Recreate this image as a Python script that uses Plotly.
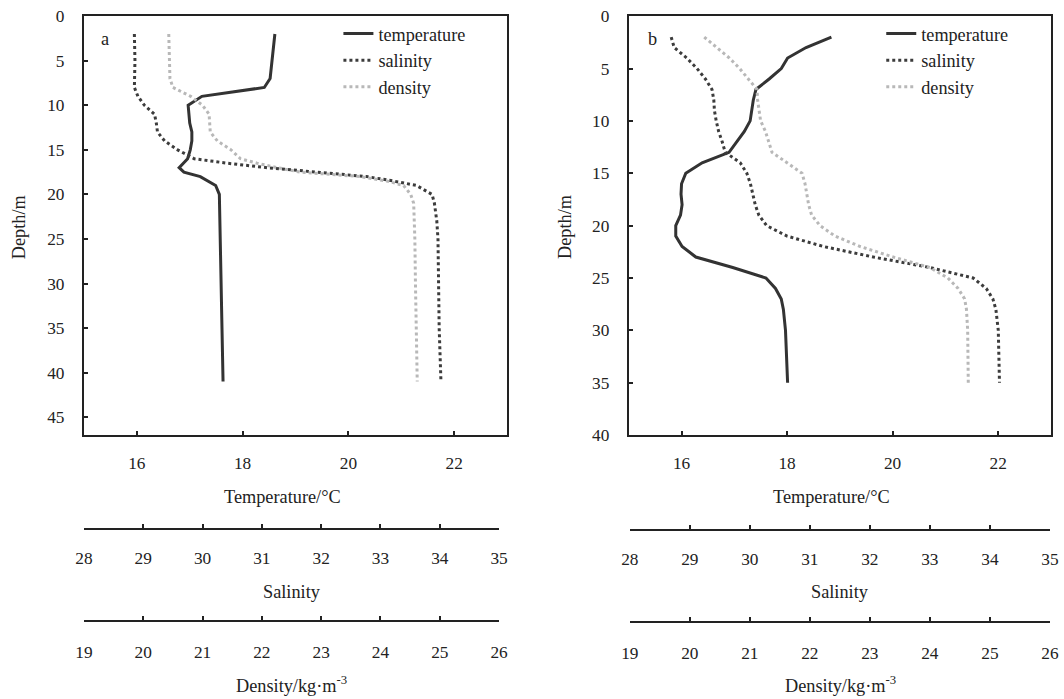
import plotly.graph_objects as go

# ---------------- Panel a data ----------------
a_temp_depth = [2, 5, 7, 8, 8.5, 9, 10, 11, 12, 13, 14, 15, 16, 17, 17.5, 18, 19, 20, 25, 30, 35, 41]
a_temp = [18.61, 18.56, 18.52, 18.41, 17.84, 17.23, 16.97, 16.99, 17.0, 17.04, 17.04, 17.01, 16.96,
          16.80, 16.89, 17.20, 17.49, 17.56, 17.58, 17.60, 17.61, 17.63]

a_sal_depth = [2, 5, 8, 9, 10, 11, 12, 13, 14, 15, 16, 16.5, 17, 17.5, 18, 18.5, 19, 20, 21, 23, 25, 30, 35, 41]
a_sal = [28.85, 28.86, 28.85, 28.91, 29.02, 29.19, 29.22, 29.24, 29.36, 29.58, 29.86, 30.42, 31.09,
         31.93, 32.77, 33.22, 33.61, 33.87, 33.91, 33.95, 33.97, 33.98, 33.99, 34.02]

a_den_depth = [2, 5, 7, 8, 9, 10, 11, 12, 13, 14, 15, 16, 16.5, 17, 17.5, 18, 18.5, 19, 20, 21, 25, 30, 35, 41]
a_den = [20.43, 20.44, 20.45, 20.50, 20.80, 21.00, 21.11, 21.12, 21.13, 21.25, 21.48, 21.64, 21.92,
         22.26, 22.65, 23.66, 24.11, 24.39, 24.51, 24.56, 24.58, 24.59, 24.60, 24.62]

# ---------------- Panel b data ----------------
b_depth = [2, 3, 4, 5, 6, 7, 8, 9, 10, 11, 12, 13, 14, 15, 16, 17, 18, 19, 20, 21, 22, 23, 24, 25,
           26, 27, 28, 30, 35]
b_temp = [18.84, 18.36, 18.01, 17.89, 17.66, 17.41, 17.36, 17.33, 17.30, 17.19, 17.04, 16.90, 16.39,
          16.08, 16.00, 15.99, 16.01, 15.98, 15.89, 15.89, 16.01, 16.27, 16.97, 17.60, 17.78, 17.89,
          17.93, 17.97, 18.01]
b_sal = [28.69, 28.74, 28.95, 29.12, 29.26, 29.37, 29.40, 29.41, 29.44, 29.48, 29.54, 29.59, 29.84,
         29.95, 30.01, 30.05, 30.09, 30.15, 30.28, 30.62, 31.23, 32.06, 33.00, 33.72, 33.94, 34.05,
         34.10, 34.14, 34.16]
b_den = [20.24, 20.45, 20.66, 20.83, 20.98, 21.12, 21.13, 21.15, 21.18, 21.26, 21.31, 21.37, 21.62,
         21.87, 21.92, 21.95, 21.98, 22.03, 22.17, 22.42, 22.84, 23.39, 24.00, 24.30, 24.47, 24.58,
         24.61, 24.63, 24.64]

series_names = ["temperature", "salinity", "density"]
temp_ticks = [16, 18, 20, 22]
sal_ticks = [28, 29, 30, 31, 32, 33, 34, 35]
den_ticks = [19, 20, 21, 22, 23, 24, 25, 26]
a_depth_ticks = [0, 5, 10, 15, 20, 25, 30, 35, 40, 45]
b_depth_ticks = [0, 5, 10, 15, 20, 25, 30, 35, 40]

W, H = 1064, 699
# the photographed page carries an 8px body margin and is scaled to fit the window;
# layout positions below are given in final-picture pixels and converted here.
MARGIN = 8
SX = (W + 2 * MARGIN) / W
SY = (H + 2 * MARGIN) / H
FONT = "Liberation Serif, Times New Roman, serif"
TEMP_COL = "#333333"
SAL_COL = "#3c3c3c"
DEN_COL = "#b8b8b8"


def px_x(p):
    return (p * SX - MARGIN) / W


def px_y(p):
    return 1 - (p * SY - MARGIN) / H


fig = go.Figure()

styles = {
    "temperature": dict(color=TEMP_COL, width=3, dash="solid"),
    "salinity": dict(color=SAL_COL, width=3, dash="dot"),
    "density": dict(color=DEN_COL, width=3, dash="dot"),
}

# Panel a
fig.add_trace(go.Scatter(x=a_temp, y=a_temp_depth, mode="lines", name=series_names[0],
                         line=styles["temperature"], xaxis="x", yaxis="y", legend="legend"))
fig.add_trace(go.Scatter(x=a_sal, y=a_sal_depth, mode="lines", name=series_names[1],
                         line=styles["salinity"], xaxis="x3", yaxis="y", legend="legend"))
fig.add_trace(go.Scatter(x=a_den, y=a_den_depth, mode="lines", name=series_names[2],
                         line=styles["density"], xaxis="x4", yaxis="y", legend="legend"))
# Panel b
fig.add_trace(go.Scatter(x=b_temp, y=b_depth, mode="lines", name=series_names[0],
                         line=styles["temperature"], xaxis="x2", yaxis="y2", legend="legend2"))
fig.add_trace(go.Scatter(x=b_sal, y=b_depth, mode="lines", name=series_names[1],
                         line=styles["salinity"], xaxis="x5", yaxis="y2", legend="legend2"))
fig.add_trace(go.Scatter(x=b_den, y=b_depth, mode="lines", name=series_names[2],
                         line=styles["density"], xaxis="x6", yaxis="y2", legend="legend2"))

tickfont = dict(family=FONT, size=17.3, color="#222")
common_axis = dict(showgrid=False, zeroline=False, showline=True, linecolor="#222", linewidth=2,
                   ticks="inside", ticklen=4, tickwidth=1.5, tickcolor="#222", tickfont=tickfont,
                   ticklabeloverflow="allow")

y_dom = [px_y(436), px_y(15)]
a_dom = [px_x(83), px_x(507)]
b_dom = [px_x(629), px_x(1052)]

layout = dict(
    width=W, height=H, margin=dict(l=0, r=0, t=0, b=0),
    paper_bgcolor="white", plot_bgcolor="rgba(0,0,0,0)",
    font=dict(family=FONT, size=17, color="#222"),
    xaxis=dict(common_axis, domain=a_dom, range=[15, 23], tickvals=temp_ticks, anchor="y",
               mirror=True, ticklabelstandoff=11),
    yaxis=dict(common_axis, domain=y_dom, range=[47, 0], tickvals=a_depth_ticks, anchor="x",
               mirror=True, ticklabelstandoff=14),
    xaxis2=dict(common_axis, domain=b_dom, range=[15, 23], tickvals=temp_ticks, anchor="y2",
                mirror=True, ticklabelstandoff=11),
    yaxis2=dict(common_axis, domain=y_dom, range=[40, 0], tickvals=b_depth_ticks, anchor="x2",
                mirror=True, ticklabelstandoff=14),
    xaxis3=dict(common_axis, domain=[px_x(83), px_x(499)], range=[28, 35], tickvals=sal_ticks,
                anchor="free", position=px_y(530), ticklabelstandoff=14),
    xaxis4=dict(common_axis, domain=[px_x(83), px_x(499)], range=[19, 26], tickvals=den_ticks,
                anchor="free", position=px_y(623), ticklabelstandoff=15),
    xaxis5=dict(common_axis, domain=[px_x(630), px_x(1051)], range=[28, 35], tickvals=sal_ticks,
                anchor="free", position=px_y(531), ticklabelstandoff=14),
    xaxis6=dict(common_axis, domain=[px_x(630), px_x(1051)], range=[19, 26], tickvals=den_ticks,
                anchor="free", position=px_y(624), ticklabelstandoff=15),
    legend=dict(x=px_x(338), y=px_y(14), xanchor="left", yanchor="top", bgcolor="rgba(0,0,0,0)",
                font=dict(family=FONT, size=18.2, color="#222"), tracegroupgap=0),
    legend2=dict(x=px_x(882), y=px_y(14), xanchor="left", yanchor="top", bgcolor="rgba(0,0,0,0)",
                 font=dict(family=FONT, size=18.2, color="#222"), tracegroupgap=0),
    showlegend=True,
)
fig.update_layout(**layout)

title_font = dict(family=FONT, size=18.3, color="#222")
annots = []
for cx, lab in [(104, "a"), (653, "b")]:
    annots.append(dict(text=lab, x=px_x(cx), y=px_y(38), xref="paper", yref="paper",
                       showarrow=False, font=title_font, xanchor="center", yanchor="middle"))
for cx in [291, 841]:
    annots.append(dict(text="Temperature/°C", x=px_x(cx - 9), y=px_y(498), xref="paper", yref="paper",
                       showarrow=False, font=title_font, xanchor="center", yanchor="middle"))
    annots.append(dict(text="Salinity", x=px_x(cx), y=px_y(594), xref="paper", yref="paper",
                       showarrow=False, font=title_font, xanchor="center", yanchor="middle"))
    annots.append(dict(text="Density/kg·m<sup>-3</sup>", x=px_x(cx), y=px_y(687), xref="paper",
                       yref="paper", showarrow=False, font=title_font, xanchor="center",
                       yanchor="middle"))
for cx in [18, 565]:
    annots.append(dict(text="Depth/m", x=px_x(cx), y=px_y(227), xref="paper", yref="paper",
                       showarrow=False, font=title_font, textangle=-90, xanchor="center",
                       yanchor="middle"))
fig.update_layout(annotations=annots)

fig.write_html("out.html")
